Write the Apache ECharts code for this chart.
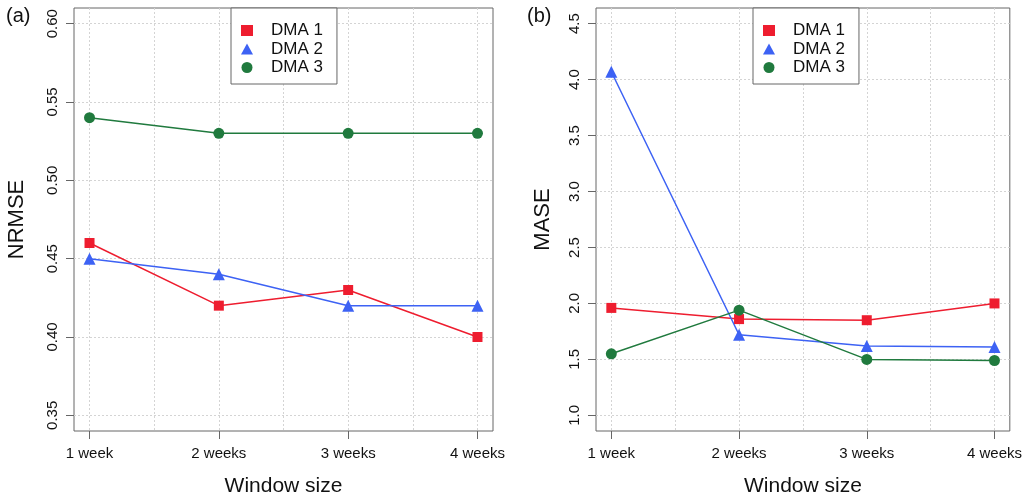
<!DOCTYPE html>
<html><head><meta charset="utf-8">
<script src="https://cdn.jsdelivr.net/npm/echarts@6/dist/echarts.min.js"></script>
<style>html,body{margin:0;padding:0;background:#fff}#c{width:1025px;height:502px}</style>
</head><body><div id="c"></div>
<script>
// ---- data ----
const categories = ['1 week', '2 weeks', '3 weeks', '4 weeks'];
const xPositions = [1, 2, 3, 4];
const seriesNames = ['DMA 1', 'DMA 2', 'DMA 3'];
const nrmseDMA1 = [0.46, 0.42, 0.43, 0.40];
const nrmseDMA2 = [0.45, 0.44, 0.42, 0.42];
const nrmseDMA3 = [0.54, 0.53, 0.53, 0.53];
const maseDMA1 = [1.96, 1.86, 1.85, 2.00];
const maseDMA2 = [4.07, 1.72, 1.62, 1.61];
const maseDMA3 = [1.55, 1.94, 1.50, 1.49];
const nrmseTicks = [0.35, 0.40, 0.45, 0.50, 0.55, 0.60];
const maseTicks = [1.0, 1.5, 2.0, 2.5, 3.0, 3.5, 4.0, 4.5];
const xGridValues = [1, 1.5, 2, 2.5, 3, 3.5, 4];
const panelLabels = ['(a)', '(b)'];
const yNames = ['NRMSE', 'MASE'];
const xName = 'Window size';

// ---- styling ----
const FONT = '"Liberation Sans", Arial, Helvetica, sans-serif';
const colors = ['#EE1D2F', '#3D62F4', '#207A3E'];
const symbols = ['rect', 'triangle', 'circle'];
const symbolSizes = [10, 12, 11];
const gridColor = '#d4d4d4';
const boxColor = '#666';

const grids = [
  { left: 74, top: 8, width: 419, height: 425 },
  { left: 596, top: 8, width: 418, height: 426 }
];
const yRanges = [[0.34, 0.61], [0.86, 4.64]];
const yTickSets = [nrmseTicks, maseTicks];

function zip(vals) { return xPositions.map((x, i) => [x, vals[i]]); }

const xAxes = [];
const yAxes = [];
grids.forEach((g, gi) => {
  // main x axis with category labels
  xAxes.push({
    type: 'value', gridIndex: gi, min: 0.88, max: 4.12,
    name: xName, nameLocation: 'middle', nameGap: 45,
    nameTextStyle: { fontFamily: FONT, fontSize: 21, color: '#111' },
    axisLine: { show: false },
    axisTick: { show: true, length: 8, customValues: xPositions, lineStyle: { color: boxColor } },
    axisLabel: {
      customValues: xPositions, margin: 15, fontFamily: FONT, fontSize: 15, color: '#111',
      formatter: v => categories[xPositions.indexOf(Math.round(v))] || ''
    },
    splitLine: { show: false }
  });
  // grid-line x axis (dotted verticals every 0.5)
  xAxes.push({
    type: 'value', gridIndex: gi, min: 0.88, max: 4.12,
    axisLine: { show: false },
    axisTick: { show: false, customValues: xGridValues },
    axisLabel: { show: false, customValues: xGridValues },
    splitLine: { show: true, lineStyle: { color: gridColor, type: [2, 2], width: 1 } }
  });
  yAxes.push({
    type: 'value', gridIndex: gi, min: yRanges[gi][0], max: yRanges[gi][1],
    name: yNames[gi], nameLocation: 'middle', nameGap: gi === 0 ? 46 : 42, nameRotate: 90,
    nameTextStyle: { fontFamily: FONT, fontSize: 22, color: '#111' },
    axisLine: { show: false },
    axisTick: { show: true, length: 8, customValues: yTickSets[gi], lineStyle: { color: boxColor } },
    axisLabel: {
      customValues: yTickSets[gi], rotate: 90, margin: 14, fontFamily: FONT, fontSize: 15, color: '#111',
      formatter: v => gi === 0 ? v.toFixed(2) : v.toFixed(1)
    },
    splitLine: { show: true, lineStyle: { color: gridColor, type: [2, 2], width: 1 } }
  });
});

const panelData = [[nrmseDMA1, nrmseDMA2, nrmseDMA3], [maseDMA1, maseDMA2, maseDMA3]];
const series = [];
panelData.forEach((arrs, gi) => {
  arrs.forEach((vals, si) => {
    series.push({
      type: 'line', name: seriesNames[si],
      xAxisIndex: gi * 2, yAxisIndex: gi,
      data: zip(vals),
      symbol: symbols[si], symbolSize: symbolSizes[si], showSymbol: true,
      itemStyle: { color: colors[si] },
      lineStyle: { color: colors[si], width: 1.5 },
      animation: false, z: 3
    });
  });
});

const legendBase = {
  orient: 'vertical', top: 8,
  backgroundColor: '#fff', borderColor: boxColor, borderWidth: 1,
  padding: [14, 14, 8, 10], itemGap: 1.5, itemWidth: 12, itemHeight: 11,
  textStyle: { fontFamily: FONT, fontSize: 17, color: '#111', padding: [0, 0, 0, 13] },
  data: seriesNames.map((n, i) => ({ name: n, icon: symbols[i] })),
  selectedMode: false
};

const option = {
  backgroundColor: '#fff',
  animation: false,
  grid: grids.map(g => Object.assign({ show: true, borderColor: boxColor, borderWidth: 1, backgroundColor: 'transparent' }, g)),
  xAxis: xAxes,
  yAxis: yAxes,
  legend: [Object.assign({ left: 231 }, legendBase), Object.assign({ left: 753 }, legendBase)],
  graphic: [
    { type: 'text', left: 6, top: 6, style: { text: panelLabels[0], font: '20px ' + FONT, fill: '#111' } },
    { type: 'text', left: 527, top: 6, style: { text: panelLabels[1], font: '20px ' + FONT, fill: '#111' } }
  ],
  series: series
};

const chart = echarts.init(document.getElementById('c'), null, { renderer: 'canvas' });
chart.setOption(option);
</script>
</body></html>
